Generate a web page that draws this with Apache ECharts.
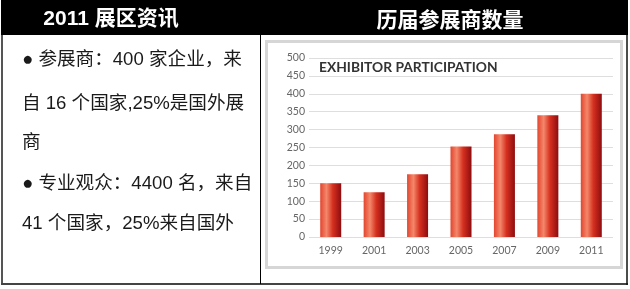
<!DOCTYPE html>
<html>
<head>
<meta charset="utf-8">
<script src="https://cdn.jsdelivr.net/npm/echarts@6/dist/echarts.min.js"></script>
<style>
html,body{margin:0;padding:0;background:#fff;}
#c{width:630px;height:289px;}
</style>
</head>
<body>
<div id="c"></div>
<script>
// ---- data ----
const years = ['1999', '2001', '2003', '2005', '2007', '2009', '2011'];
const exhibitors = [150, 125, 175, 253, 287, 340, 400];
const chartTitle = 'EXHIBITOR PARTICIPATION';
const headerLeft = '2011 展区资讯';
const headerRight = '历届参展商数量';
const infoLines = [
  '● 参展商：400 家企业，来',
  '自 16 个国家,25%是国外展',
  '商',
  '● 专业观众：4400 名，来自',
  '41 个国家，25%来自国外'
];

// ---- layout ----
const lineY = [60, 104, 143, 184, 224];
const cjk = '"Liberation Sans", "Noto Sans CJK SC", sans-serif';

const graphics = [
  // header band
  { type: 'rect', shape: { x: 1, y: 0, width: 627, height: 35 }, style: { fill: '#000' }, z: 1 },
  // table borders
  { type: 'line', shape: { x1: 2, y1: 35, x2: 2, y2: 285 }, style: { stroke: '#555', lineWidth: 2 }, z: 1 },
  { type: 'line', shape: { x1: 1, y1: 284, x2: 628, y2: 284 }, style: { stroke: '#444', lineWidth: 2 }, z: 1 },
  { type: 'line', shape: { x1: 627, y1: 35, x2: 627, y2: 285 }, style: { stroke: '#111', lineWidth: 1.5 }, z: 1 },
  { type: 'line', shape: { x1: 260.5, y1: 35, x2: 260.5, y2: 284 }, style: { stroke: '#000', lineWidth: 1 }, z: 1 },
  // header texts
  { type: 'text', x: 111, y: 19, z: 2, style: { text: headerLeft, fill: '#fff', font: 'bold 21px ' + cjk, align: 'center', verticalAlign: 'middle' } },
  { type: 'text', x: 450, y: 19, z: 2, style: { text: headerRight, fill: '#fff', font: 'bold 21px "Noto Sans CJK SC", sans-serif', align: 'center', verticalAlign: 'middle' } },
  // chart frame
  { type: 'rect', shape: { x: 266.5, y: 41.5, width: 355, height: 226 }, style: { fill: 'none', stroke: '#d6d6d6', lineWidth: 3 }, z: 1 },
  // chart title
  { type: 'text', x: 319, y: 67.5, z: 5, style: { text: chartTitle, fill: '#333', font: 'bold 13.8px Lato, sans-serif', verticalAlign: 'middle' } }
];
infoLines.forEach(function (t, i) {
  graphics.push({ type: 'text', x: 22, y: lineY[i], z: 2, style: { text: t, fill: '#1a1a1a', font: '18.6px ' + cjk, verticalAlign: 'middle' } });
});

const chart = echarts.init(document.getElementById('c'));
chart.setOption({
  backgroundColor: '#fff',
  animation: false,
  grid: { left: 309, right: 17, top: 58, bottom: 52 },
  xAxis: {
    type: 'category',
    data: years,
    axisLine: { show: false },
    axisTick: { show: false },
    axisLabel: { color: '#666', fontSize: 10.5, fontFamily: 'Lato, sans-serif', margin: 8 }
  },
  yAxis: {
    type: 'value',
    min: 0, max: 500, interval: 50,
    axisLine: { show: false },
    axisTick: { show: false },
    splitLine: { lineStyle: { color: '#dedede', width: 1 } },
    axisLabel: { color: '#666', fontSize: 10.5, fontFamily: 'Lato, sans-serif', margin: 4 }
  },
  series: [{
    type: 'bar',
    data: exhibitors,
    barWidth: 21,
    itemStyle: {
      color: new echarts.graphic.LinearGradient(0, 0, 1, 0, [
        { offset: 0, color: '#e2452f' },
        { offset: 0.3, color: '#f4876a' },
        { offset: 0.6, color: '#d5301f' },
        { offset: 1, color: '#8e0c10' }
      ])
    }
  }],
  graphic: graphics
});
</script>
</body>
</html>
